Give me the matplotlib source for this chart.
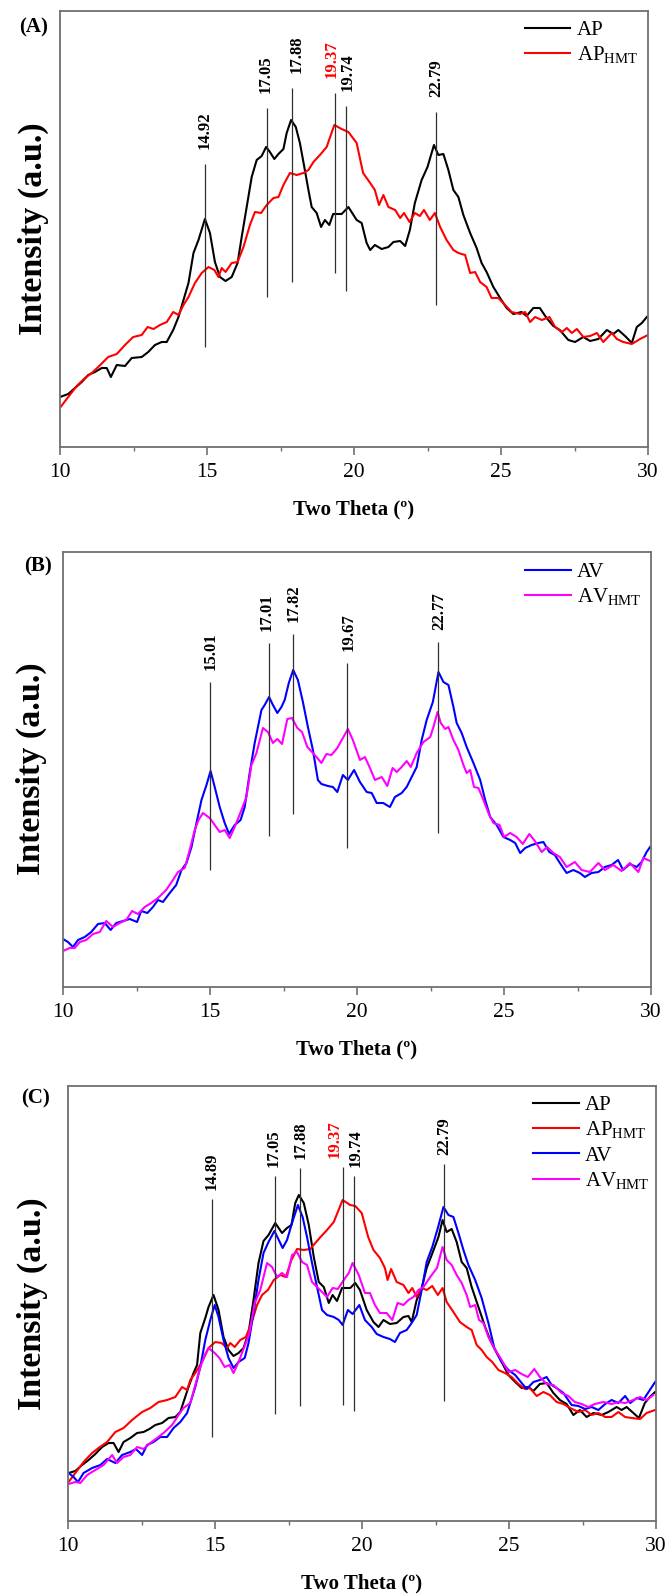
import matplotlib
matplotlib.use("Agg")
import matplotlib.pyplot as plt
from matplotlib.ticker import MultipleLocator

plt.rcParams['font.family'] = 'Liberation Serif'
plt.rcParams['mathtext.fontset'] = 'custom'
plt.rcParams['mathtext.rm'] = 'Liberation Serif'

# ---- data (intensity in arbitrary units) ----
# panel A: AP and AP_HMT
a_ap_x = [10.0, 10.28, 10.51, 10.74, 10.96, 11.19, 11.42, 11.59, 11.73, 11.93, 12.21, 12.44, 12.78, 13.0,
          13.23, 13.46, 13.63, 13.85, 14.03, 14.2, 14.37, 14.54, 14.71, 14.93, 15.1, 15.27, 15.44, 15.63,
          15.84, 16.04, 16.18, 16.35, 16.52, 16.69, 16.86, 17.01, 17.14, 17.29, 17.43, 17.6, 17.71, 17.86,
          18.02, 18.16, 18.31, 18.45, 18.56, 18.73, 18.88, 19.01, 19.16, 19.29, 19.58, 19.81, 20.09, 20.26,
          20.43, 20.55, 20.71, 20.94, 21.17, 21.34, 21.57, 21.74, 21.9, 22.07, 22.3, 22.5, 22.72, 22.87,
          23.04, 23.21, 23.38, 23.55, 23.72, 23.95, 24.17, 24.34, 24.51, 24.74, 24.97, 25.19, 25.42, 25.7,
          25.87, 26.1, 26.32, 26.55, 26.78, 27.0, 27.29, 27.52, 27.8, 28.03, 28.31, 28.6, 28.82, 28.99,
          29.22, 29.45, 29.62, 29.79, 29.96]
a_ap_y = [50, 53, 59, 65, 72, 75, 79, 79, 70, 82, 81, 89, 90, 95,
          102, 105, 105, 117, 130, 147, 164, 194, 207, 228, 214, 185, 170, 166,
          170, 184, 210, 240, 270, 287, 291, 300, 295, 288, 293, 298, 314, 327,
          320, 304, 280, 257, 240, 234, 220, 227, 222, 233, 233, 240, 227, 224,
          204, 197, 202, 198, 200, 205, 206, 201, 217, 244, 267, 280, 302, 292,
          293, 277, 257, 250, 232, 214, 199, 184, 175, 160, 149, 139, 133, 135,
          131, 139, 139, 129, 121, 117, 107, 105, 110, 106, 108, 117, 113, 117,
          111, 104, 120, 124, 130]

a_hmt_x = [10.02, 10.28, 10.57, 10.85, 11.08, 11.3, 11.64, 11.93, 12.21, 12.49, 12.78, 12.98, 13.18, 13.4,
           13.63, 13.85, 14.03, 14.2, 14.37, 14.59, 14.82, 15.05, 15.25, 15.39, 15.5, 15.63, 15.84, 16.04,
           16.24, 16.46, 16.63, 16.84, 17.03, 17.26, 17.43, 17.6, 17.82, 18.05, 18.28, 18.45, 18.62, 18.84,
           19.07, 19.33, 19.58, 19.81, 20.09, 20.31, 20.55, 20.71, 20.85, 21.0, 21.17, 21.4, 21.57, 21.7,
           21.89, 22.07, 22.24, 22.38, 22.58, 22.75, 22.93, 23.15, 23.38, 23.55, 23.78, 23.95, 24.12, 24.29,
           24.51, 24.68, 24.91, 25.14, 25.36, 25.65, 25.82, 25.99, 26.16, 26.39, 26.65, 26.84, 27.07, 27.24,
           27.41, 27.58, 27.8, 28.03, 28.26, 28.48, 28.77, 28.94, 29.16, 29.45, 29.73, 30.0]
a_hmt_y = [40, 50, 61, 69, 74, 80, 90, 93, 102, 110, 112, 120, 118, 122,
           125, 135, 132, 142, 150, 164, 174, 180, 177, 170, 179, 175, 184, 185,
           200, 222, 235, 234, 242, 249, 250, 262, 274, 272, 274, 277, 285, 292,
           300, 322, 318, 315, 304, 274, 264, 257, 242, 252, 240, 237, 229, 234,
           225, 234, 231, 237, 227, 234, 220, 207, 197, 194, 192, 174, 175, 165,
           160, 149, 149, 142, 135, 133, 135, 125, 130, 127, 130, 120, 115, 119,
           114, 118, 110, 111, 114, 105, 114, 108, 105, 103, 108, 112]

# panel B: AV and AV_HMT
b_av_x = [10.0, 10.17, 10.34, 10.51, 10.74, 10.96, 11.19, 11.42, 11.62, 11.81, 12.04, 12.27, 12.52, 12.66,
          12.87, 13.06, 13.23, 13.4, 13.63, 13.85, 14.03, 14.2, 14.37, 14.54, 14.71, 14.88, 15.02, 15.16,
          15.33, 15.5, 15.65, 15.84, 16.04, 16.18, 16.35, 16.52, 16.75, 16.86, 17.01, 17.14, 17.29, 17.43,
          17.54, 17.68, 17.83, 17.99, 18.16, 18.33, 18.5, 18.67, 18.79, 19.01, 19.18, 19.33, 19.52, 19.69,
          19.9, 20.1, 20.33, 20.5, 20.67, 20.89, 21.12, 21.29, 21.52, 21.69, 21.86, 22.03, 22.2, 22.37,
          22.58, 22.77, 22.94, 23.11, 23.28, 23.39, 23.56, 23.73, 23.96, 24.19, 24.36, 24.53, 24.75, 24.98,
          25.21, 25.38, 25.55, 25.72, 25.94, 26.17, 26.34, 26.54, 26.73, 26.9, 27.13, 27.36, 27.58, 27.75,
          27.98, 28.21, 28.43, 28.66, 28.88, 29.05, 29.28, 29.51, 29.68, 29.85, 29.97]
b_av_y = [48, 45, 40, 47, 50, 55, 63, 64, 57, 64, 66, 68, 65, 76,
          74, 80, 87, 85, 94, 102, 117, 124, 140, 164, 187, 202, 216, 200,
          180, 164, 153, 162, 167, 180, 214, 244, 277, 282, 290, 282, 274, 280,
          287, 304, 317, 307, 285, 260, 237, 207, 203, 201, 200, 195, 212, 207,
          217, 205, 195, 194, 184, 184, 180, 190, 194, 200, 210, 220, 247, 267,
          285, 315, 305, 302, 280, 264, 254, 240, 224, 207, 187, 170, 162, 150,
          147, 144, 134, 139, 142, 144, 145, 135, 132, 124, 114, 117, 114, 110,
          114, 115, 120, 122, 127, 117, 123, 120, 125, 135, 140]

b_hmt_x = [10.0, 10.23, 10.4, 10.57, 10.79, 11.02, 11.25, 11.47, 11.7, 11.93, 12.15, 12.35, 12.55, 12.78,
           13.0, 13.23, 13.51, 13.74, 13.91, 14.14, 14.31, 14.48, 14.61, 14.76, 14.99, 15.16, 15.33, 15.5,
           15.67, 15.84, 16.07, 16.24, 16.41, 16.58, 16.8, 16.97, 17.14, 17.29, 17.45, 17.63, 17.79, 17.97,
           18.13, 18.31, 18.47, 18.62, 18.79, 18.96, 19.13, 19.33, 19.52, 19.69, 19.86, 20.1, 20.27, 20.44,
           20.61, 20.84, 21.03, 21.21, 21.35, 21.52, 21.69, 21.83, 22.03, 22.26, 22.49, 22.6, 22.74, 22.85,
           23.0, 23.11, 23.28, 23.45, 23.62, 23.73, 23.85, 23.98, 24.13, 24.3, 24.47, 24.64, 24.85, 25.0,
           25.21, 25.43, 25.64, 25.86, 26.05, 26.28, 26.47, 26.68, 26.9, 27.13, 27.41, 27.64, 27.92, 28.21,
           28.43, 28.72, 29.0, 29.28, 29.57, 29.74, 29.97]
b_hmt_y = [36, 39, 39, 45, 47, 53, 55, 66, 60, 64, 67, 76, 73, 80,
           84, 89, 97, 107, 115, 119, 137, 157, 167, 174, 169, 162, 155, 157,
           149, 160, 177, 190, 222, 234, 259, 255, 244, 248, 243, 268, 269, 259,
           255, 240, 235, 230, 224, 233, 232, 239, 249, 258, 247, 227, 230, 219,
           207, 210, 201, 219, 215, 220, 226, 220, 234, 245, 250, 260, 275, 264,
           258, 260, 247, 237, 222, 214, 217, 200, 199, 187, 174, 164, 162, 150,
           154, 150, 143, 153, 146, 135, 140, 134, 130, 120, 125, 117, 115, 124,
           117, 122, 116, 124, 115, 129, 126]

# panel C: all four samples
c_ap_x = [10.02, 10.25, 10.48, 10.7, 10.93, 11.16, 11.38, 11.55, 11.72, 11.89, 12.12, 12.35, 12.57, 12.77,
          12.97, 13.2, 13.42, 13.65, 13.82, 13.93, 14.1, 14.27, 14.39, 14.5, 14.67, 14.78, 14.95, 15.12,
          15.29, 15.46, 15.63, 15.8, 15.97, 16.14, 16.31, 16.48, 16.65, 16.82, 17.05, 17.28, 17.45, 17.6,
          17.73, 17.85, 18.02, 18.19, 18.36, 18.53, 18.7, 18.87, 19.0, 19.15, 19.32, 19.6, 19.77, 19.93,
          20.16, 20.39, 20.56, 20.73, 20.95, 21.18, 21.41, 21.58, 21.69, 21.86, 22.03, 22.2, 22.37, 22.6,
          22.74, 22.88, 23.05, 23.22, 23.39, 23.56, 23.73, 23.96, 24.19, 24.36, 24.53, 24.75, 24.98, 25.21,
          25.43, 25.66, 25.83, 26.05, 26.28, 26.51, 26.73, 26.96, 27.19, 27.41, 27.64, 27.87, 28.15, 28.38,
          28.66, 28.83, 29.0, 29.23, 29.42, 29.62, 29.79, 29.97]
c_ap_y = [48, 50, 56, 61, 67, 74, 78, 78, 69, 79, 83, 88, 89, 92,
          96, 98, 103, 104, 109, 119, 134, 148, 156, 188, 203, 214, 226, 211,
          184, 171, 165, 168, 173, 188, 221, 258, 280, 286, 298, 288, 293, 296,
          318, 326, 318, 296, 264, 239, 234, 218, 226, 220, 233, 233, 238, 231,
          211, 199, 194, 201, 197, 198, 204, 205, 199, 221, 233, 253, 266, 284,
          301, 289, 292, 279, 259, 253, 234, 214, 194, 181, 171, 159, 146, 139,
          133, 134, 130, 137, 138, 128, 121, 117, 106, 111, 104, 108, 106, 109,
          114, 111, 114, 108, 103, 118, 124, 129]

c_aph_x = [10.02, 10.25, 10.53, 10.82, 11.04, 11.33, 11.61, 11.89, 12.18, 12.52, 12.8, 13.08, 13.37, 13.65,
           13.88, 14.05, 14.16, 14.33, 14.56, 14.78, 15.01, 15.22, 15.41, 15.52, 15.67, 15.86, 16.05, 16.24,
           16.43, 16.6, 16.8, 17.0, 17.22, 17.41, 17.6, 17.79, 18.02, 18.24, 18.41, 18.59, 18.81, 19.04,
           19.34, 19.6, 19.77, 19.99, 20.21, 20.39, 20.61, 20.78, 20.87, 20.99, 21.18, 21.41, 21.58, 21.71,
           21.86, 22.03, 22.2, 22.39, 22.58, 22.74, 22.88, 23.11, 23.33, 23.56, 23.73, 23.9, 24.07, 24.24,
           24.43, 24.64, 24.86, 25.09, 25.32, 25.54, 25.71, 25.94, 26.17, 26.39, 26.62, 26.85, 27.08, 27.36,
           27.59, 27.81, 28.04, 28.27, 28.49, 28.72, 28.95, 29.17, 29.46, 29.68, 29.97]
c_aph_y = [39, 48, 59, 68, 73, 79, 89, 93, 101, 109, 113, 119, 121, 124,
           134, 131, 141, 148, 159, 173, 179, 178, 173, 178, 174, 181, 184, 198,
           216, 226, 231, 241, 246, 244, 261, 272, 271, 272, 278, 284, 291, 299,
           321, 316, 315, 308, 284, 271, 263, 253, 241, 252, 239, 236, 228, 233,
           224, 233, 231, 235, 226, 233, 219, 209, 199, 194, 191, 176, 171, 164,
           159, 151, 148, 144, 137, 132, 133, 125, 129, 126, 119, 117, 113, 109,
           111, 106, 108, 104, 104, 109, 104, 103, 102, 108, 111]

c_av_x = [10.02, 10.19, 10.34, 10.53, 10.82, 11.1, 11.33, 11.61, 11.84, 12.12, 12.31, 12.52, 12.69, 12.91,
          13.14, 13.37, 13.59, 13.82, 14.05, 14.16, 14.33, 14.5, 14.67, 14.84, 14.99, 15.12, 15.29, 15.46,
          15.63, 15.8, 16.01, 16.14, 16.31, 16.48, 16.65, 16.82, 17.02, 17.17, 17.3, 17.45, 17.62, 17.82,
          17.98, 18.13, 18.3, 18.47, 18.64, 18.81, 19.04, 19.21, 19.34, 19.52, 19.68, 19.91, 20.1, 20.33,
          20.5, 20.73, 20.95, 21.12, 21.29, 21.52, 21.69, 21.86, 22.03, 22.2, 22.39, 22.58, 22.77, 22.94,
          23.11, 23.28, 23.45, 23.62, 23.85, 24.07, 24.3, 24.5, 24.75, 24.98, 25.21, 25.43, 25.6, 25.83,
          26.05, 26.28, 26.45, 26.62, 26.85, 27.13, 27.36, 27.59, 27.81, 28.04, 28.27, 28.49, 28.72, 28.95,
          29.12, 29.35, 29.57, 29.79, 29.97]
c_av_y = [48, 44, 39, 48, 53, 56, 62, 58, 66, 69, 72, 66, 76, 79,
          84, 84, 93, 99, 108, 118, 134, 154, 181, 201, 216, 204, 181, 163,
          153, 159, 163, 178, 208, 241, 268, 279, 290, 281, 273, 281, 298, 316,
          304, 284, 258, 234, 211, 206, 204, 201, 196, 211, 207, 216, 201, 194,
          187, 184, 182, 179, 188, 191, 198, 206, 231, 259, 274, 293, 314, 306,
          304, 288, 271, 256, 241, 223, 198, 173, 159, 151, 146, 138, 132, 139,
          141, 144, 136, 133, 128, 116, 115, 112, 114, 111, 117, 121, 118, 125,
          118, 123, 121, 131, 139]

c_avh_x = [10.02, 10.25, 10.42, 10.65, 10.93, 11.21, 11.5, 11.67, 11.89, 12.12, 12.35, 12.57, 12.8, 13.03,
           13.25, 13.54, 13.76, 13.93, 14.16, 14.33, 14.5, 14.65, 14.78, 14.99, 15.15, 15.33, 15.49, 15.63,
           15.8, 16.01, 16.17, 16.35, 16.54, 16.77, 16.94, 17.11, 17.28, 17.45, 17.62, 17.79, 17.96, 18.13,
           18.3, 18.47, 18.64, 18.81, 19.0, 19.18, 19.38, 19.55, 19.68, 19.89, 20.1, 20.27, 20.44, 20.61,
           20.84, 21.03, 21.21, 21.41, 21.58, 21.75, 21.92, 22.09, 22.32, 22.55, 22.74, 22.88, 23.05, 23.22,
           23.39, 23.56, 23.68, 23.85, 23.98, 24.13, 24.3, 24.53, 24.75, 24.98, 25.21, 25.43, 25.64, 25.86,
           26.05, 26.28, 26.51, 26.79, 27.02, 27.24, 27.47, 27.7, 27.92, 28.21, 28.49, 28.72, 28.95, 29.23,
           29.46, 29.68, 29.91]
c_avh_y = [37, 39, 38, 46, 51, 56, 66, 58, 64, 66, 74, 72, 78, 83,
           88, 96, 106, 113, 118, 136, 154, 166, 173, 168, 163, 154, 156, 148,
           159, 175, 188, 218, 231, 258, 254, 244, 248, 244, 266, 269, 259, 256,
           239, 234, 229, 224, 233, 232, 241, 248, 258, 246, 228, 228, 216, 208,
           208, 201, 218, 216, 221, 224, 231, 234, 244, 253, 274, 261, 256, 246,
           238, 226, 214, 216, 201, 198, 184, 171, 161, 149, 151, 147, 144, 152,
           144, 137, 136, 128, 125, 119, 117, 114, 117, 119, 117, 119, 118, 121,
           124, 121, 126]

# peak markers: position, line top, line bottom, label nudge (px), label colour
a_peaks = [14.92, 17.05, 17.88, 19.37, 19.74, 22.79]
a_top = [283, 339, 359, 354, 341, 335]
a_bot = [100, 150, 165, 174, 156, 142]
a_dx = [0, -2, 5, -4, 1, 0]
a_col = ['black', 'black', 'black', 'red', 'black', 'black']

b_peaks = [15.01, 17.01, 17.82, 19.67, 22.77]
b_top = [305, 344, 353, 324, 345]
b_bot = [117, 151, 173, 139, 154]
b_dx = [0, -2, 1, 1, 1]
b_col = ['black'] * 5

c_peaks = [14.89, 17.05, 17.88, 19.37, 19.74, 22.79]
c_top = [322, 345, 353, 354, 345, 357]
c_bot = [84, 107, 115, 116, 110, 120]
c_dx = [0, -2, 1, -9, 1, 0]
c_col = ['black', 'black', 'black', 'red', 'black', 'black']

HMT = r'$_{\mathregular{HMT}}$'

W, H = 665, 1595
fig = plt.figure(figsize=(W / 100, H / 100), dpi=100)


def make_axes(left, top, bottom):
    # pixel box -> figure fraction
    return fig.add_axes([left / W, 1 - bottom / H, 588 / W, (bottom - top) / H])


def style(ax, ymax):
    ax.set_xlim(10, 30)
    ax.set_ylim(0, ymax)
    ax.xaxis.set_major_locator(MultipleLocator(5))
    ax.xaxis.set_minor_locator(MultipleLocator(2.5))
    ax.tick_params(axis='x', which='major', length=6, width=1.2, color='#707070',
                   labelsize=15.5, pad=5.5, direction='out')
    ax.tick_params(axis='x', which='minor', length=3, width=1.0, color='#707070', direction='out')
    ax.tick_params(axis='y', left=False, labelleft=False)
    for s in ax.spines.values():
        s.set_color('#707070')
        s.set_linewidth(1.3)
    ax.set_xlabel('Two Theta (º)', fontsize=15, fontweight='bold', labelpad=12.5)


def peaks(ax, pos, top, bot, dx, col, gap):
    ax.vlines(pos, bot, top, color='#303030', lw=0.9)
    for p, t, d, c in zip(pos, top, dx, col):
        ax.annotate('%.2f' % p, xy=(p, t), xytext=(d * 0.72, gap * 0.72), textcoords='offset points',
                    rotation=90, ha='center', va='bottom', fontsize=12, fontweight='bold', color=c)


def legend(ax, x0, y0):
    ax.legend(loc='upper left', bbox_to_anchor=(x0, y0), frameon=False, fontsize=15,
              borderpad=0, borderaxespad=0, handlelength=2.2, handletextpad=0.3, labelspacing=0.22)


# ---- (A) ----
ax1 = make_axes(60, 11, 447)
ax1.plot(a_ap_x, a_ap_y, color='black', lw=1.5, label='AP')
ax1.plot(a_hmt_x, a_hmt_y, color='red', lw=1.5, label='AP' + HMT)
peaks(ax1, a_peaks, a_top, a_bot, a_dx, a_col, 15)
style(ax1, 436)
legend(ax1, 0.79, 0.978)

# ---- (B) ----
ax2 = make_axes(63, 552, 987)
ax2.plot(b_av_x, b_av_y, color='blue', lw=1.5, label='AV')
ax2.plot(b_hmt_x, b_hmt_y, color='magenta', lw=1.5, label='AV' + HMT)
peaks(ax2, b_peaks, b_top, b_bot, b_dx, b_col, 12)
style(ax2, 435)
legend(ax2, 0.786, 0.976)

# ---- (C) ----
ax3 = make_axes(68, 1086, 1521)
ax3.plot(c_ap_x, c_ap_y, color='black', lw=1.5, label='AP')
ax3.plot(c_aph_x, c_aph_y, color='red', lw=1.5, label='AP' + HMT)
ax3.plot(c_av_x, c_av_y, color='blue', lw=1.5, label='AV')
ax3.plot(c_avh_x, c_avh_y, color='magenta', lw=1.5, label='AV' + HMT)
peaks(ax3, c_peaks, c_top, c_bot, c_dx, c_col, 9)
style(ax3, 435)
legend(ax3, 0.791, 0.978)

# y labels and panel letters
for (px, py) in [(33, 229), (31, 769), (32, 1304)]:
    fig.text(px / W, 1 - py / H, 'Intensity (a.u.)', rotation=90, ha='center', va='center',
             fontsize=24.5, fontweight='bold')
for (px, py, s) in [(34, 27.5, '(A)'), (38, 566, '(B)'), (35.5, 1098, '(C)')]:
    fig.text(px / W, 1 - py / H, s, ha='center', va='center', fontsize=15, fontweight='bold')

fig.savefig('out.png', dpi=100)
